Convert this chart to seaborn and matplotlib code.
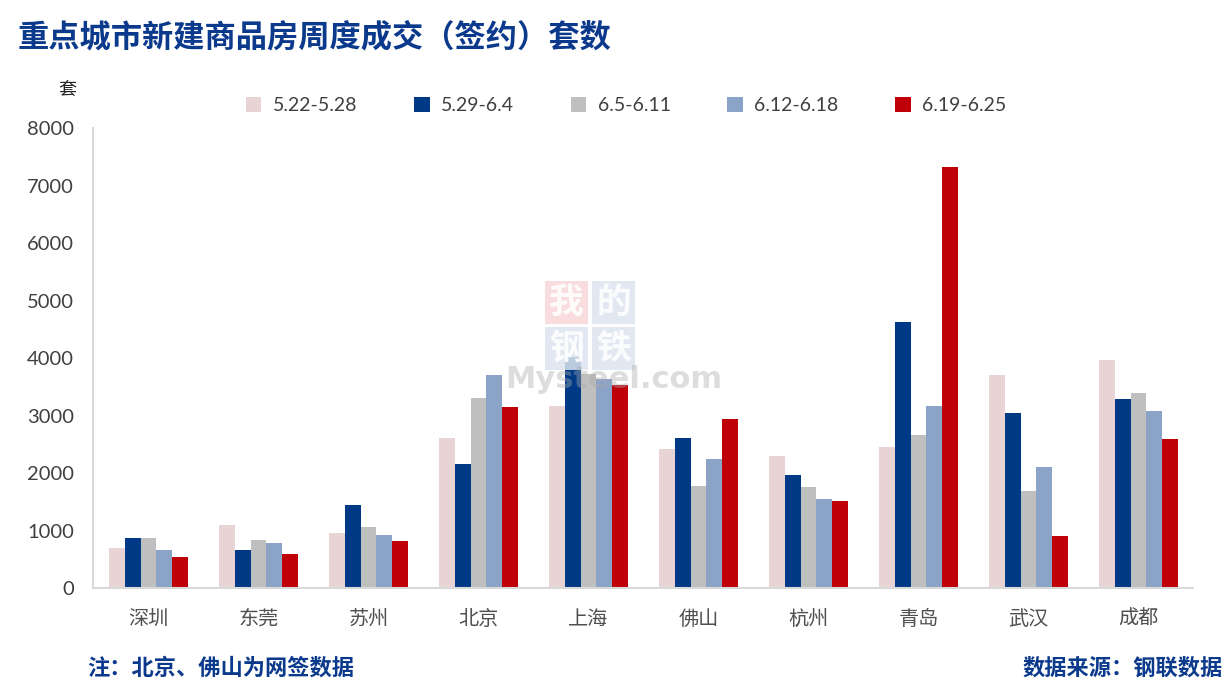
import numpy as np
import pandas as pd
import matplotlib
matplotlib.use("Agg")
import matplotlib.pyplot as plt
import seaborn as sns

cities = ["深圳", "东莞", "苏州", "北京", "上海", "佛山", "杭州", "青岛", "武汉", "成都"]
weeks = ["5.22-5.28", "5.29-6.4", "6.5-6.11", "6.12-6.18", "6.19-6.25"]
w1 = [700, 1100, 960, 2610, 3170, 2420, 2300, 2450, 3700, 3970]
w2 = [870, 660, 1440, 2160, 4020, 2610, 1970, 4630, 3040, 3290]
w3 = [870, 840, 1060, 3300, 3730, 1770, 1760, 2660, 1690, 3390]
w4 = [660, 780, 920, 3700, 3640, 2240, 1550, 3170, 2100, 3080]
w5 = [540, 590, 820, 3150, 3530, 2940, 1510, 7320, 900, 2590]
yticks = [0, 1000, 2000, 3000, 4000, 5000, 6000, 7000, 8000]
colors = ["#E8D4D4", "#003A87", "#BFBFBF", "#8AA3C7", "#C00008"]

rows = []
for wk, vals in zip(weeks, [w1, w2, w3, w4, w5]):
    for c, v in zip(cities, vals):
        rows.append({"city": c, "week": wk, "value": v})
df = pd.DataFrame(rows)

sns.set_theme(style="white")
plt.rcParams["font.family"] = ["Noto Sans CJK SC", "DejaVu Sans"]

fig = plt.figure(figsize=(12.31, 6.85), dpi=100)
ax = fig.add_axes([0.0759, 0.1416, 0.8936, 0.6715])

sns.barplot(data=df, x="city", y="value", hue="week", order=cities,
            hue_order=weeks, palette=colors, width=0.72, gap=0,
            saturation=1, errorbar=None, ax=ax, legend=False)
for p in ax.patches:
    p.set_linewidth(0)

ax.set_xlim(-0.5, 9.5)
ax.set_ylim(0, 8000)
ax.set_yticks(yticks)
ax.set_yticklabels([str(t) for t in yticks], fontfamily="Lato", fontsize=14.5, color="#404040")
ax.set_xticks(range(len(cities)))
ax.set_xticklabels(cities, fontsize=14.5, color="#505050")
ax.set_xlabel("")
ax.set_ylabel("")
ax.tick_params(axis="y", length=0, pad=14)
ax.tick_params(axis="x", length=0, pad=15)
for s in ["top", "right"]:
    ax.spines[s].set_visible(False)
for s in ["left", "bottom"]:
    ax.spines[s].set_color("#D9D9D9")
    ax.spines[s].set_linewidth(1.5)

# legend
from matplotlib.patches import Patch
handles = [Patch(facecolor=c, edgecolor="none") for c in colors]
leg = fig.legend(handles, weeks, loc="center left", bbox_to_anchor=(0.1855, 0.846),
                 ncol=5, frameon=False, handlelength=0.8, handleheight=0.8,
                 columnspacing=2.9, handletextpad=0.6,
                 prop={"family": "Lato", "size": 14})
for t in leg.get_texts():
    t.set_color("#404040")

# unit
fig.text(67 / 1231, 1 - 90 / 685, "套", fontsize=13, ha="center", va="center", color="#222222")

# title
fig.text(18 / 1231, 1 - 37 / 685, "重点城市新建商品房周度成交（签约）套数", fontsize=22.5,
         fontweight="bold", color="#0B3A8C", ha="left", va="center")

# footers
fig.text(87 / 1231, 1 - 668 / 685, "注：北京、佛山为网签数据", fontsize=16, fontweight="bold",
         color="#0B3A8C", ha="left", va="center")
fig.text(1223 / 1231, 1 - 668 / 685, "数据来源：钢联数据", fontsize=16, fontweight="bold",
         color="#0B3A8C", ha="right", va="center")

# watermark
from matplotlib.patches import Rectangle
wm = [("我", "#F7D6D9", 545, 280), ("的", "#DCE4EF", 592, 280),
      ("钢", "#DCE4EF", 545, 326), ("铁", "#DCE4EF", 592, 326)]
for ch, bg, x0, y0 in wm:
    fig.patches.append(Rectangle((x0 / 1231, 1 - (y0 + 44) / 685), 43 / 1231, 43 / 685,
                                 transform=fig.transFigure, facecolor=bg, edgecolor="none",
                                 alpha=0.85, zorder=5))
    fig.text((x0 + 21.5) / 1231, 1 - (y0 + 22) / 685, ch, fontsize=25, fontweight="bold",
             color="white", ha="center", va="center", zorder=6, alpha=0.9)
fig.text(614 / 1231, 1 - 380 / 685, "Mysteel.com", fontsize=22, fontweight="bold",
         fontfamily="DejaVu Sans", color="#AAAAAA", alpha=0.4, ha="center", va="center", zorder=6)

fig.savefig("out.png", dpi=100)
